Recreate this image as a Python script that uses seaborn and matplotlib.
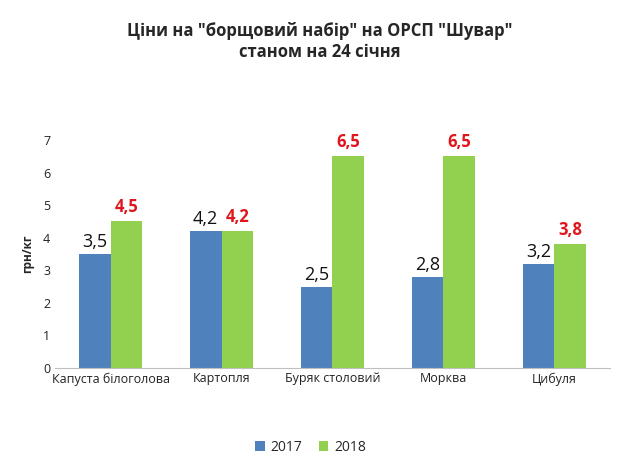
import pandas as pd
import matplotlib
matplotlib.use("Agg")
import matplotlib.pyplot as plt
import seaborn as sns

# дані
categories = ["Капуста білоголова", "Картопля", "Буряк столовий", "Морква", "Цибуля"]
prices_2017 = [3.5, 4.2, 2.5, 2.8, 3.2]
prices_2018 = [4.5, 4.2, 6.5, 6.5, 3.8]
years = ["2017", "2018"]

df = pd.DataFrame({
    "cat": categories * 2,
    "year": [years[0]] * 5 + [years[1]] * 5,
    "price": prices_2017 + prices_2018,
})

sns.set_style("white")
plt.rcParams["font.family"] = ["Open Sans", "DejaVu Sans"]

fig = plt.figure(figsize=(6.4, 4.61), dpi=100)
ax = fig.add_axes([0.086, 0.2017, 0.867, 0.4946])

palette = {"2017": "#4F81BD", "2018": "#92D050"}
sns.barplot(data=df, x="cat", y="price", hue="year", palette=palette,
            width=0.57, gap=0, ax=ax, saturation=1, linewidth=0)

ax.set_ylim(0, 7)
ax.set_yticks(range(8))
ax.tick_params(axis="both", length=0, labelsize=9, colors="#222222")
ax.tick_params(axis="x", pad=3)
ax.set_xlabel("")
ax.set_ylabel("грн/кг", fontsize=8.5, fontweight="bold", labelpad=6)
for s in ["top", "right", "left"]:
    ax.spines[s].set_visible(False)
ax.spines["bottom"].set_color("#BFBFBF")

# підписи значень
for cont, yr in zip(ax.containers, years):
    if yr == "2017":
        labels = [f"{v:.1f}".replace(".", ",") for v in prices_2017]
        ax.bar_label(cont, labels=labels, padding=2, fontsize=13, color="#111111", clip_on=False)
    else:
        labels = [f"{v:.1f}".replace(".", ",") for v in prices_2018]
        ax.bar_label(cont, labels=labels, padding=4, fontsize=12, color="#E0161E",
                     fontweight="bold", clip_on=False)

ax.legend(loc="upper center", bbox_to_anchor=(0.46, -0.26), ncol=2, frameon=False,
          fontsize=10, handlelength=0.7, handleheight=0.7, handletextpad=0.4, columnspacing=1.2)

fig.text(0.5, 0.91, "Ціни на \"борщовий набір\" на ОРСП \"Шувар\"\nстаном на 24 січня",
         ha="center", va="center", fontsize=12, fontweight="bold", linespacing=1.15)

fig.savefig("out.png", dpi=100)
